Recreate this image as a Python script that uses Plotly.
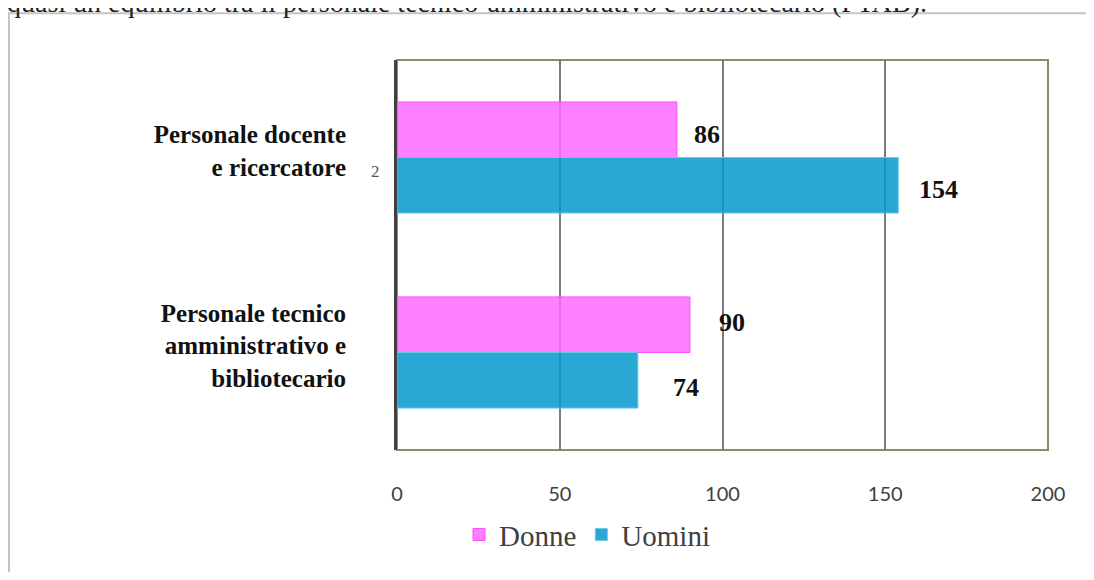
import plotly.graph_objects as go

categories = ["Personale docente<br>e ricercatore", "Personale tecnico<br>amministrativo e<br>bibliotecario"]
donne = [86, 90]
uomini = [154, 74]
series_names = ["Donne", "Uomini"]
x_ticks = [0, 50, 100, 150, 200]
header_text = "quasi un equilibrio tra il personale tecnico-amministrativo e bibliotecario (PTAB)."

OFF = 8  # page body margin
W, H = 1094 - 2 * OFF, 580 - 2 * OFF
# plot area in page pixels: x 397..1048, y 60..461
L, T = 397 - OFF, 60 - OFF
pw, ph = 651, 401
R = W - L - pw
B = H - T - ph


def px_x(p):  # page px -> paper x
    return (p - OFF - L) / pw


def px_y(p):  # page px -> paper y
    return (T + ph - (p - OFF)) / ph


fig = go.Figure()
fig.add_trace(go.Bar(
    y=categories, x=donne, name=series_names[0], orientation="h",
    marker=dict(color="rgba(255,106,255,0.85)", line=dict(color="#ff4dff", width=1)),
))
fig.add_trace(go.Bar(
    y=categories, x=uomini, name=series_names[1], orientation="h",
    marker=dict(color="rgba(3,153,204,0.85)", line=dict(color="#6cc6e6", width=1)),
))

lab_font = dict(family="Liberation Serif", size=26, color="#111111")
shifts = {  # (xshift, yshift) for value labels
    (0, 0): (30, 23), (0, 1): (40, -32),
    (1, 0): (42, 30), (1, 1): (48, -35),
}
for ci, cat in enumerate(categories):
    for si, vals in enumerate([donne, uomini]):
        xs, ys = shifts[(ci, si)]
        fig.add_annotation(x=vals[ci], y=cat, xref="x", yref="y",
                           text=f"<b>{vals[ci]}</b>", showarrow=False,
                           xshift=xs, yshift=ys, font=lab_font)

# header text (cut at the top, as in the reference)
fig.add_annotation(x=px_x(5), y=px_y(1), xref="paper", yref="paper",
                   xanchor="left", yanchor="middle", showarrow=False,
                   text=header_text,
                   font=dict(family="Liberation Serif", size=28, color="#222222"))
# stray glyph
fig.add_annotation(x=px_x(369), y=px_y(163), xref="paper", yref="paper",
                   showarrow=False, text="2",
                   font=dict(family="Liberation Serif", size=17, color="#555555"))

shapes = [
    # outer frame
    dict(type="rect", xref="paper", yref="paper", x0=px_x(9), x1=px_x(1200),
         y0=px_y(700), y1=px_y(12), line=dict(color="#c4c4c4", width=2), layer="below"),
    # plot border
    dict(type="rect", xref="paper", yref="paper", x0=0, x1=1,
         y0=0, y1=1, line=dict(color="#8f8c6c", width=2), layer="below"),
]

fig.update_layout(
    width=W, height=H,
    margin=dict(l=L, r=R, t=T, b=B, pad=0),
    paper_bgcolor="white", plot_bgcolor="white",
    barmode="group", bargap=0.43, bargroupgap=0,
    shapes=shapes,
    showlegend=True,
    legend=dict(orientation="h", x=px_x(587), y=px_y(548), xanchor="center", yanchor="middle",
                font=dict(family="Liberation Serif", size=29, color="#404040"),
                itemwidth=30, tracegroupgap=0, bgcolor="rgba(0,0,0,0)"),
    xaxis=dict(range=[0, 200], tickvals=x_ticks, showgrid=True,
               gridcolor="#7a7a7a", gridwidth=1.5, zeroline=False,
               showline=False, ticks="", ticklabelstandoff=30,
               tickfont=dict(family="Lato", size=20, color="#404040")),
    yaxis=dict(type="category", categoryorder="array", categoryarray=categories,
               autorange="reversed", showgrid=False, zeroline=False,
               showline=True, linecolor="#404040", linewidth=3,
               ticks="", ticklabelstandoff=43, ticklabelshift=7,
               tickprefix="<b>", ticksuffix="</b>",
               tickfont=dict(family="Liberation Serif", size=25, color="#111111")),
)

fig.write_html("out.html")
